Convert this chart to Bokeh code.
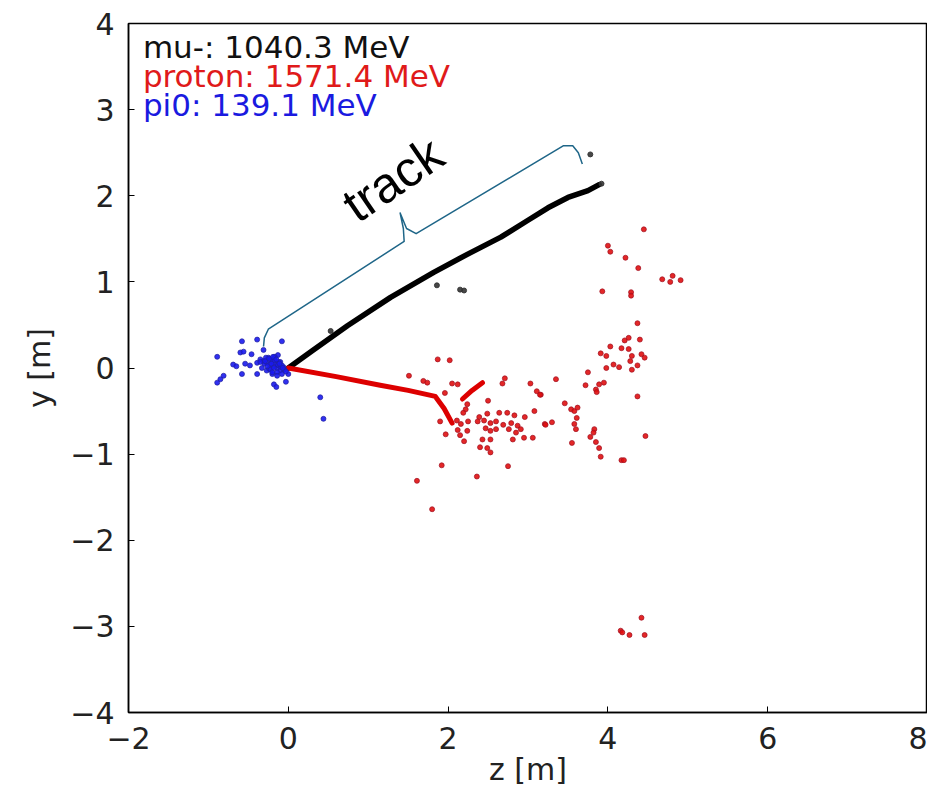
from bokeh.plotting import figure
from bokeh.models import Range1d, Label, FixedTicker
from bokeh.embed import file_html
from bokeh.resources import INLINE
from bokeh.core.properties import value

# ---- data (z, y in metres) ----
mu_track_z = [0.0, 0.30, 0.74, 1.28, 1.82, 2.24, 2.66, 2.99, 3.25, 3.50, 3.75, 3.89]
mu_track_y = [0.0, 0.20, 0.49, 0.82, 1.11, 1.32, 1.52, 1.71, 1.86, 1.98, 2.06, 2.13]
mu_hits_z = [3.78, 3.92, 1.86, 2.15, 2.20, 0.53]
mu_hits_y = [2.48, 2.14, 0.96, 0.91, 0.90, 0.43]

p_track_z = [0.0, 0.60, 1.15, 1.50, 1.84, 1.95, 2.05]
p_track_y = [0.0, -0.10, -0.20, -0.26, -0.33, -0.47, -0.64]
p_stub_z = [2.18, 2.30, 2.43]
p_stub_y = [-0.36, -0.26, -0.17]
p_hits_z = [4.45, 4.00, 4.03, 4.22, 4.38, 4.68, 4.78, 4.81, 4.91, 3.93, 4.29, 4.29,
            4.37, 4.40, 4.21, 4.26, 4.03, 4.17, 4.26, 3.91, 3.98, 4.30, 4.42, 4.46,
            4.07, 4.14, 3.98, 4.28, 4.37, 4.30, 3.75, 3.35, 3.72, 3.85, 3.89, 3.95,
            3.86, 4.37, 3.16, 3.46, 3.54, 3.58, 3.62, 3.61, 3.58, 3.60, 3.21, 3.30,
            3.83, 3.82, 3.78, 3.85, 3.89, 3.55, 4.47, 3.91, 4.17, 4.20,
            4.16, 4.18, 4.27, 4.42, 4.46,
            1.92, 1.61, 2.36, 1.80,
            1.87, 2.02, 1.51, 1.69, 1.74, 2.05, 2.12, 1.96, 2.71, 2.68, 3.03, 3.11,
            3.15, 2.50, 2.24, 2.22, 2.19, 3.08, 1.90, 2.11, 2.16, 2.25, 2.39, 2.49,
            2.64, 2.74, 2.83, 2.96, 2.37, 2.45, 2.53, 2.60, 2.69, 2.79, 2.87, 2.91,
            3.22, 1.97, 2.12, 2.15, 2.20, 2.24, 2.47, 2.53, 2.60, 2.76, 2.85, 2.95,
            3.06, 2.81, 2.43, 2.53, 2.40, 2.49, 2.53, 2.75]
p_hits_y = [1.61, 1.42, 1.35, 1.28, 1.16, 1.03, 1.00, 1.07, 1.02, 0.89, 0.88, 0.84,
            0.52, 0.33, 0.32, 0.35, 0.25, 0.23, 0.22, 0.17, 0.14, 0.14, 0.16, 0.12,
            0.04, 0.01, 0.00, 0.08, 0.03, -0.02, -0.05, -0.13, -0.20, -0.25, -0.19, -0.17,
            -0.28, -0.33, -0.31, -0.41, -0.48, -0.50, -0.46, -0.58, -0.65, -0.71, -0.65, -0.63,
            -0.71, -0.75, -0.80, -0.86, -0.93, -0.87, -0.79, -1.03, -1.07, -1.07,
            -3.05, -3.07, -3.10, -2.90, -3.10,
            -1.13, -1.31, -1.26, -1.64,
            0.10, 0.09, -0.09, -0.15, -0.17, -0.18, -0.19, -0.29, -0.12, -0.18, -0.18, -0.27,
            -0.31, -0.38, -0.42, -0.48, -0.52, -0.50, -0.62, -0.61, -0.65, -0.62, -0.57, -0.53,
            -0.52, -0.52, -0.55, -0.57, -0.62, -0.61, -0.64, -0.62, -0.66, -0.64, -0.67, -0.71,
            -0.66, -0.77, -0.72, -0.78, -0.85, -0.73, -0.70, -0.73, -0.71, -0.71, -0.75, -0.81,
            -0.81, -0.83, -0.83, -0.83, -0.92, -0.93, -0.98, -1.14]

pi_hits_z = [-0.89, -0.58, -0.39, -0.08, -0.60, -0.56, -0.46, -0.31, -0.13, -0.69, -0.65,
             -0.54, -0.48, -0.39, -0.35, -0.31, -0.27, -0.23, -0.18, -0.14, -0.10, -0.08,
             -0.27, -0.33, -0.25, -0.20, -0.16, -0.39, -0.58, -0.20, 0.00, -0.81, -0.85,
             -0.89, -0.18, -0.15, -0.03, 0.40, 0.44, -0.30, -0.22, -0.12, -0.06, -0.28,
             -0.17, -0.10, -0.35, -0.24, -0.14,
             -0.26, -0.21, -0.17, -0.13, -0.09, -0.05, -0.22, -0.18, -0.12, -0.08,
             -0.29, -0.24, -0.19, -0.15, -0.11, -0.07, -0.03, -0.20, -0.14]
pi_hits_y = [0.13, 0.31, 0.33, 0.31, 0.18, 0.19, 0.16, 0.21, 0.15, 0.04, 0.02,
             0.05, 0.03, 0.06, 0.10, 0.08, 0.06, 0.04, 0.02, 0.00, -0.03, -0.07,
             -0.03, 0.00, 0.12, 0.08, 0.06, -0.07, -0.07, -0.07, -0.07, -0.09, -0.13,
             -0.17, -0.19, -0.22, -0.16, -0.34, -0.59, 0.05, 0.10, 0.03, 0.01, 0.12,
             0.13, 0.07, 0.07, -0.01, -0.05,
             0.02, 0.05, 0.09, 0.04, 0.01, -0.02, -0.02, 0.00, 0.07, 0.03,
             0.08, 0.11, 0.13, 0.10, 0.05, 0.00, -0.04, -0.05, -0.09]

legend_lines = ["mu-: 1040.3 MeV", "proton: 1571.4 MeV", "pi0: 139.1 MeV"]
legend_colors = ["#111111", "#e01a1a", "#1a1ae0"]

brace_z = [-0.31, -0.30, -0.25, 1.45, 1.44, 1.40, 1.48, 1.60, 3.44, 3.56, 3.63, 3.68]
brace_y = [0.25, 0.35, 0.45, 1.47, 1.62, 1.80, 1.62, 1.56, 2.58, 2.58, 2.50, 2.37]

x_ticks = [-2, 0, 2, 4, 6, 8]
y_ticks = [-4, -3, -2, -1, 0, 1, 2, 3, 4]

p = figure(width=927, height=799, output_backend="svg", toolbar_location=None,
           x_range=Range1d(-2, 8), y_range=Range1d(-4, 4),
           min_border_left=128, min_border_right=0, min_border_top=23, min_border_bottom=87)
p.xgrid.visible = False
p.ygrid.visible = False
p.outline_line_color = "black"
p.outline_line_width = 1.5
p.background_fill_color = "white"
p.border_fill_color = "white"

for ax in (p.xaxis[0], p.yaxis[0]):
    ax.axis_line_color = "black"
    ax.axis_line_width = 1.5
    ax.major_tick_in = 6
    ax.major_tick_out = 0
    ax.minor_tick_in = 0
    ax.minor_tick_out = 0
    ax.major_tick_line_color = "black"
    ax.major_label_text_font = "DejaVu Sans"
    ax.major_label_text_font_size = "30px"
    ax.major_label_text_color = "#222222"
    ax.axis_label_text_font = "DejaVu Sans"
    ax.axis_label_text_font_size = "30px"
    ax.axis_label_text_font_style = "normal"
    ax.axis_label_text_color = "#222222"
p.xaxis.ticker = FixedTicker(ticks=x_ticks)
p.yaxis.ticker = FixedTicker(ticks=y_ticks)
p.xaxis.axis_label = "z [m]"
p.yaxis.axis_label = "y [m]"
p.xaxis.major_label_standoff = 14
p.yaxis.major_label_standoff = 14
p.xaxis.axis_label_standoff = 0
p.yaxis.axis_label_standoff = 10

# tracks
p.line(mu_track_z, mu_track_y, line_color="black", line_width=5.5, line_cap="round", line_join="round")
p.line(p_track_z, p_track_y, line_color="#dd0000", line_width=5, line_cap="round", line_join="round")
p.line(p_stub_z, p_stub_y, line_color="#dd0000", line_width=5, line_cap="round")

# hits
p.scatter(p_hits_z, p_hits_y, size=5, fill_color="#e01010", line_color="#a01020", line_width=0.8, alpha=0.9)
p.scatter(pi_hits_z, pi_hits_y, size=5, fill_color="#1a1aee", line_color="#2020a0", line_width=0.8, alpha=0.9)
p.scatter(mu_hits_z, mu_hits_y, size=5, fill_color="#333333", line_color="#333333", alpha=0.9)

# brace annotation
p.line(brace_z, brace_y, line_color="#1f6688", line_width=1.5, line_join="round")
p.text(x=[1.31], y=[2.19], text=["track"], angle=0.6, text_align="center", text_baseline="middle",
       text_font=value("Liberation Sans"), text_font_size="50px", text_color="black")

# legend texts
for i, (t, c) in enumerate(zip(legend_lines, legend_colors)):
    p.add_layout(Label(x=-1.82, y=3.73 - i * 0.337, text=t, text_color=c,
                       text_font="DejaVu Sans", text_font_size="31px", text_baseline="alphabetic"))

open("out.html", "w").write(file_html(p, INLINE))
